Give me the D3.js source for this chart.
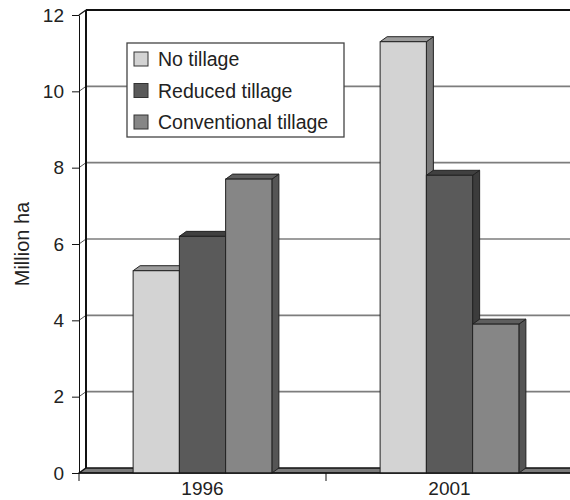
<!DOCTYPE html>
<html>
<head>
<meta charset="utf-8">
<script src="https://cdn.jsdelivr.net/npm/d3@7"></script>
<style>
  body { margin: 0; background: #fff; }
  svg text { font-family: "Liberation Sans", Arial, sans-serif; fill: #222; }
</style>
</head>
<body>
<div id="chart"></div>
<script>
// data
var years = ["1996", "2001"];
var seriesNames = ["No tillage", "Reduced tillage", "Conventional tillage"];
var noTillage = [5.3, 11.3];
var reducedTillage = [6.2, 7.8];
var conventionalTillage = [7.7, 3.9];
var yTicks = [0, 2, 4, 6, 8, 10, 12];

var values = [noTillage, reducedTillage, conventionalTillage];
var fronts = ["#d3d3d3", "#5a5a5a", "#868686"];
var tops = ["#9c9c9c", "#404040", "#5e5e5e"];
var sides = ["#7a7a7a", "#3c3c3c", "#555555"];

var width = 570, height = 500;
var plotLeft = 79, plotRight = 573, plotBottom = 473, plotTop = 15;
var dx = 7, dy = -5;   // depth offset of the 3d look

var svg = d3.select("#chart").append("svg")
  .attr("width", width)
  .attr("height", height);

var y = d3.scaleLinear().domain([0, 12]).range([plotBottom, plotTop]);
var x0 = d3.scaleBand().domain(years).range([plotLeft, plotRight]);
var x1 = d3.scaleBand().domain(seriesNames).range([0, x0.bandwidth()])
  .paddingInner(0).paddingOuter(1.17);

//// walls
// floor
svg.append("polygon")
  .attr("points", [[plotLeft, plotBottom], [plotLeft + dx, plotBottom + dy], [plotRight + dx + 10, plotBottom + dy], [plotRight + 10, plotBottom]].join(" "))
  .attr("fill", "#7a7a7a")
  .attr("stroke", "#111")
  .attr("stroke-width", 1.5);

// gridlines on back wall + the little slant on the side wall
yTicks.filter(d => d > 0 && d < 12).forEach(function (v) {
  svg.append("line")
    .attr("x1", plotLeft + dx).attr("x2", width)
    .attr("y1", y(v) + dy).attr("y2", y(v) + dy)
    .attr("stroke", "#7d7d7d").attr("stroke-width", 1.6);
  svg.append("line")
    .attr("x1", plotLeft).attr("x2", plotLeft + dx)
    .attr("y1", y(v)).attr("y2", y(v) + dy)
    .attr("stroke", "#555").attr("stroke-width", 1);
});

// top edge of back wall
svg.append("line")
  .attr("x1", plotLeft + dx).attr("x2", width)
  .attr("y1", y(12) + dy).attr("y2", y(12) + dy)
  .attr("stroke", "#111").attr("stroke-width", 2);
svg.append("line")
  .attr("x1", plotLeft).attr("x2", plotLeft + dx)
  .attr("y1", y(12)).attr("y2", y(12) + dy)
  .attr("stroke", "#111").attr("stroke-width", 1.2);
// back left edge
svg.append("line")
  .attr("x1", plotLeft + dx).attr("x2", plotLeft + dx)
  .attr("y1", y(12) + dy).attr("y2", plotBottom + dy)
  .attr("stroke", "#111").attr("stroke-width", 2);

//// bars
years.forEach(function (yr, i) {
  seriesNames.forEach(function (s, j) {
    var v = values[j][i];
    var bx = x0(yr) + x1(s), bw = x1.bandwidth();
    var by = y(v), b0 = y(0);
    var g = svg.append("g").attr("class", "bar");
    g.append("polygon")
      .attr("points", [[bx + bw, by], [bx + bw + dx, by + dy], [bx + bw + dx, b0 + dy], [bx + bw, b0]].join(" "))
      .attr("fill", sides[j]).attr("stroke", "#222").attr("stroke-width", 1);
    g.append("polygon")
      .attr("points", [[bx, by], [bx + dx, by + dy], [bx + bw + dx, by + dy], [bx + bw, by]].join(" "))
      .attr("fill", tops[j]).attr("stroke", "#222").attr("stroke-width", 1);
    g.append("rect")
      .attr("x", bx).attr("y", by)
      .attr("width", bw).attr("height", b0 - by)
      .attr("fill", fronts[j]).attr("stroke", "#222").attr("stroke-width", 1);
  });
});

//// axes
var yAxis = svg.append("g")
  .attr("transform", "translate(" + plotLeft + ",0)")
  .call(d3.axisLeft(y).tickValues(yTicks).tickSize(7).tickPadding(8).tickSizeOuter(0));
yAxis.selectAll("text").style("font-size", "19px");
yAxis.selectAll("line, path").attr("stroke", "#111");

// front floor edge
svg.append("line")
  .attr("x1", plotLeft).attr("x2", width)
  .attr("y1", plotBottom).attr("y2", plotBottom)
  .attr("stroke", "#111").attr("stroke-width", 1.2);

var xAxis = svg.append("g")
  .attr("transform", "translate(0," + plotBottom + ")")
  .call(d3.axisBottom(x0).tickSize(0).tickPadding(9));
xAxis.select(".domain").remove();
xAxis.selectAll("text").style("font-size", "19px");

// x ticks sit on the category boundaries
svg.selectAll(".xtick")
  .data(years)
  .enter().append("line")
  .attr("class", "xtick")
  .attr("x1", d => x0(d)).attr("x2", d => x0(d))
  .attr("y1", plotBottom).attr("y2", plotBottom + 8)
  .attr("stroke", "#111");
svg.append("line")
  .attr("x1", x0(years[1]) + x0.bandwidth()).attr("x2", x0(years[1]) + x0.bandwidth())
  .attr("y1", plotBottom).attr("y2", plotBottom + 8)
  .attr("stroke", "#111");

svg.append("text")
  .attr("transform", "translate(29,244) rotate(-90)")
  .attr("text-anchor", "middle")
  .style("font-size", "20px")
  .text("Million ha");

//// legend
var legend = svg.append("g").attr("transform", "translate(127,43)");
legend.append("rect")
  .attr("width", 217).attr("height", 94)
  .attr("fill", "#fff").attr("stroke", "#444").attr("stroke-width", 1.3);
seriesNames.forEach(function (s, j) {
  var row = legend.append("g").attr("transform", "translate(0," + (16 + j * 31.5) + ")");
  row.append("rect")
    .attr("x", 7).attr("y", -7).attr("width", 14).attr("height", 14)
    .attr("fill", fronts[j]).attr("stroke", "#333");
  row.append("text")
    .attr("x", 31).attr("y", 7)
    .style("font-size", "19.5px")
    .text(s);
});
</script>
</body>
</html>
